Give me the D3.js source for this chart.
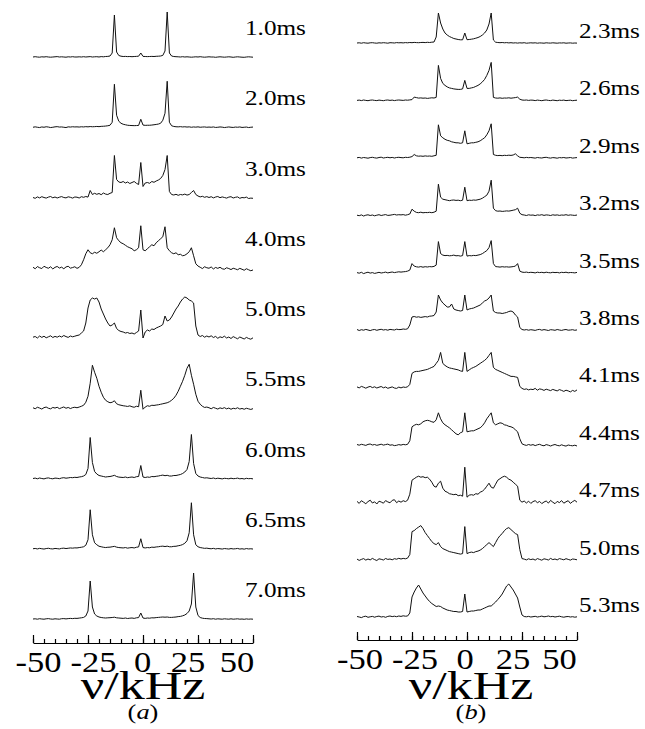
<!DOCTYPE html>
<html>
<head>
<meta charset="UTF-8" />
<title>Spectra</title>
<style>
  body { margin: 0; background: #fff; }
  svg { display: block; }
  text { font-family: "Liberation Serif", "Times New Roman", "DejaVu Serif", serif; fill: #000; }
</style>
<script src="https://d3js.org/d3.v7.min.js"></script>
</head>
<body>
<div id="chart"></div>
<script>
// sampling grid of every spectrum: -50 ... 50 kHz, 1 kHz step (101 points)
const freq = d3.range(-50, 51);
const tickValues = [-50, -25, 0, 25, 50];

// ---- panel (a) ----
const labelsA = ["1.0ms", "2.0ms", "3.0ms", "4.0ms", "5.0ms", "5.5ms", "6.0ms", "6.5ms", "7.0ms"];

const a1_0 = [0,0.3,0,-0.2,0.2,0,0.3,0,-0.2,0,0.2,0.4,0,0.2,0,-0.2,0.2,0,0.3,0,
  0,0.2,0,0.3,0,0.2,0.4,0,0.2,0.3,0,0.4,0.2,0.5,0.6,1,4,42,5,1.5,
  0.8,0.5,0.6,0.4,0.5,0.3,0.5,0.6,0.8,4,0.6,0.5,0.4,0.5,0.6,0.5,0.7,0.8,1,1.6,
  6,45,4,1,0.5,0.3,0.2,0,0.3,0,0.2,0,-0.2,0,0.2,0,0.3,0,-0.2,0,
  0.2,0,0,-0.3,0,0.2,0,-0.2,0,0.2,0,-0.3,0,0.2,0,-0.2,-0.3,0,0.2,0,-0.2];
const a2_0 = [0,0.4,0,-0.3,0.3,0,0.5,0.2,-0.3,0,0.4,0.6,0.2,0.3,0,-0.3,0.4,0.2,0.5,0.3,
  0.4,0.2,0.5,0.3,0.6,0.4,0.7,0.5,0.6,0.8,0.6,0.9,1,1.2,1.5,2,5,43,12,6,
  4,3,2.5,2,1.8,1.7,1.6,1.7,1.8,8,2.2,1.9,2,2,2.2,2.5,2.8,3.2,4,7,
  14,46,5,1.5,0.8,0.5,0.4,0.6,0.3,0.5,0.2,0.4,0,0.3,0.1,0.4,0,0.2,0.3,0,
  0.2,0,0.3,-0.2,0,0.3,0.1,-0.3,0,0.3,0,-0.2,0.2,0,0.3,-0.2,0,0.2,-0.3,0,0.2];
const a3_0 = [0,-0.8,0.6,-0.4,0.8,0,-0.6,0.4,1,-0.3,0.5,-0.5,0.3,0.9,0,-0.4,0.7,0.2,-0.6,0.5,
  0.3,-0.5,0.8,0.2,1,0.4,7,3,4.2,3.2,4,2.8,4.5,3.4,3,4.2,5,42,18,15.5,
  15,16,14.5,15.5,14,15,16,14.2,13,35,11,14.5,15,14.2,16,15.2,16.5,17.5,19,22,
  28,42,6,3,2.5,3.2,2.2,3,2.6,3.4,2.4,3,5,7,3,1.5,0.6,1.2,0.2,0.9,
  0,0.8,-0.4,0.5,1,-0.2,0.6,0,-0.6,0.4,0.8,-0.5,0.2,0.6,-0.8,0,-0.3,0.4,-1,-0.6,-0.8];
const a4_0 = [0.5,-1,1.2,0,-0.8,1.5,0.3,-0.5,1,-1.2,0.4,1.3,-0.3,0.6,-1,0.8,1.5,-0.4,0.2,1,
  -0.6,0.4,3,8,14,18,15,14,15.5,14.5,16,17.7,16,18,20,23,28,40,30,27,
  25,24,22.5,21,20,19,17,18,20,42,18,17,19,21,23,22,25,27,29,31,
  41,20,17,15,14,15,13,13.5,12,12.5,14,16,20,12,4,1.7,0.5,-0.8,1,0,
  -0.5,0.8,-1.2,0.3,-0.6,0.5,-1,-1.5,0,-0.8,-1.8,-0.5,-1.2,-2,-0.6,-1.5,-2.5,-1,-2,-3,-2.2];
const a5_0 = [0.8,1.5,0,2,0.6,1.8,0.2,1.2,2.2,0.5,1.6,0.8,2,1,2.5,1.4,0.6,2,1.2,1.8,
  2.5,3,5,7,15,30,38,40,39,40,36,29,24,19,15,12,13,15,9.5,7.5,
  6.5,6,5,5.5,4.5,5,4,5.5,7,28,0,6,8,7,9,8.5,10,11,12,13.5,
  22,17,18,21,25,29,32,36,39,41,40,38,37,35,12,3,1.5,2.5,0.8,2,
  1,2.2,0.5,1.6,-0.3,1.2,0.4,1.8,0,1,-0.5,1.4,0.3,-0.8,1,0,-1,0.6,-0.5,-1.2,0.2];
const a5_5 = [0.5,-0.5,1,0.2,-0.8,0.6,1.2,0,-0.6,0.8,0.2,1,-0.4,0.5,1.3,0,0.8,-0.3,0.6,1,
  0.5,1.2,2,3,6,12,25,43,36,30,22,16,11,8,6.5,5.5,6,7.5,4.5,3.5,
  3,2.5,2.2,1.8,2.4,1.5,1,2,1.5,18,-1,1.2,2.5,2,3,2.8,3.2,3.5,4,4.5,
  5,5.5,6.5,8,10,13,17,22,27,33,40,44,33,24,14,7,4,2,0.8,1.2,
  0.5,-0.5,0.8,0,-0.8,0.4,-0.3,0.6,-0.6,0.2,-1,0,-0.5,0.5,-0.8,-0.2,-1,0,-0.6,-1.2,-0.4];
const a6_0 = [0,0.4,-0.3,0.5,0,-0.4,0.3,0.6,0,-0.3,0.4,0.2,-0.2,0.5,0.8,0.3,0.6,1,0.8,1.2,
  1,1.5,1.8,2.5,4,10,41,16,7,4.5,3,2.5,2,1.5,1.8,2,2.5,3.2,2,1.4,
  1.2,1,1.5,0.8,1.2,1.5,1,1.8,2,13,1.5,1,1.5,1.2,2,1.8,2.2,2.5,3,3.4,
  2.8,3.2,2.5,2.5,3,3,3.5,4,5,6.5,9,17,44,15,5,2.5,1.5,1,0.5,0.7,
  0.3,0,0.5,-0.2,0.3,0,-0.4,0.2,0,-0.3,0.3,-0.2,0,0.4,-0.3,0,-0.5,0.2,-0.2,0,-0.4];
const a6_5 = [0,0.3,-0.2,0.4,0,-0.3,0.2,0.5,0,-0.2,0.3,0.1,-0.2,0.4,0.6,0.2,0.5,0.8,0.6,0.9,
  0.8,1.2,1.5,2,3.5,9,39,14,6,4,2.5,2,1.5,1.2,1.5,1.6,2,2.4,1.6,1.2,
  1,0.8,1.2,0.6,1,1.2,0.8,1.5,1.8,10,1.2,0.8,1.2,1,1.6,1.4,1.8,2,2.4,2.6,
  2.2,2.6,2,2,2.4,2.5,3,3.4,4.2,5.5,8,16,46,14,4,2,1.2,0.8,0.4,0.6,
  0.2,0,0.4,-0.2,0.2,0,-0.3,0.2,0,-0.3,0.2,-0.2,0,0.3,-0.3,0,-0.4,0.2,-0.2,0,-0.3];
const a7_0 = [0,0.2,-0.2,0.3,0,-0.2,0.2,0.4,0,-0.2,0.2,0,-0.2,0.3,0.4,0.1,0.4,0.6,0.4,0.7,
  0.6,0.9,1.2,1.6,3,8,38,12,5,3,2,1.5,1.2,1,1.2,1.3,1.5,1.8,1.2,1,
  0.8,0.6,1,0.5,0.8,1,0.6,1.2,1.4,6,1,0.6,1,0.8,1.2,1.1,1.4,1.6,1.8,2,
  1.8,2,1.6,1.6,1.8,2,2.4,2.6,3.2,4,5.5,8,15,46,12,3.5,1.5,0.8,0.5,0.4,
  0.2,0,0.3,-0.2,0.2,0,-0.2,0.2,0,-0.2,0.2,-0.2,0,0.2,-0.2,0,-0.3,0.1,-0.2,0,-0.2];
const spectraA = [a1_0, a2_0, a3_0, a4_0, a5_0, a5_5, a6_0, a6_5, a7_0];

// ---- panel (b) ----
const labelsB = ["2.3ms", "2.6ms", "2.9ms", "3.2ms", "3.5ms", "3.8ms", "4.1ms", "4.4ms", "4.7ms", "5.0ms", "5.3ms"];

const b2_3 = [0,0.2,-0.2,0.3,0,-0.2,0.2,0.3,0,-0.2,0.2,0,0.3,0.1,-0.2,0.3,0.2,0,0.4,0.2,
  0.3,0.1,0.4,0.2,0.5,0.3,0.6,0.4,0.3,0.5,0.6,0.4,0.7,0.5,0.8,1,6,30,20,14,
  10,8,6.5,5.5,4.5,4,3.5,3.2,3.2,10,3.3,3.5,3.8,4.2,4.8,5.5,6.5,8,10,13,
  19,30,3,0.8,0.5,0.3,0.5,0.2,0.4,0.1,0.3,0,0.2,-0.1,0.2,0,0.3,-0.2,0,0.2,
  0,0.2,-0.2,0.1,0,-0.2,0.2,0,-0.1,0.2,0,-0.2,0.1,0,0.2,-0.2,0,0.1,-0.2,0,-0.1];
const b2_6 = [0,0.3,-0.2,0.4,0,-0.3,0.2,0.4,0,-0.2,0.3,0,-0.3,0.2,0.4,0,0.3,-0.2,0.2,0.4,
  0.2,0,0.4,0.2,0.5,0.8,3.3,2.8,2.3,2.5,2.2,2.4,2,2.3,2.6,2.4,3,35,22,17,
  15,13.5,12.5,12,11.5,11.2,11,11,11.5,20,12,12,12.5,13,14,15,16.5,18.5,21,25,
  30,38,3,2.4,2.2,2.5,2.1,2.4,2.3,2.6,2.2,2.5,2.8,3.3,1.2,0.4,0.2,0.4,0,0.3,
  0.2,-0.2,0.3,0,-0.3,0.2,0.4,0,-0.2,0.3,0,-0.3,0.2,0,0.3,-0.2,0,0.2,-0.3,0,0.2];
const b2_9 = [0,0.4,-0.3,0.3,0,-0.4,0.2,0.5,0,-0.3,0.3,0.6,-0.2,0.2,0.5,0,0.4,-0.2,0.3,0.5,
  0.2,0,0.5,0.3,0.6,1.2,3.3,2,1.6,1.8,1.5,1.9,1.6,1.8,1.5,2,2.5,33,22,20,
  18.5,17.5,17,16,15.5,15,15,14.5,15,27,14,14.5,15,15,15.5,16,17,18.5,20,23,
  27,34,3.3,2.5,2.2,2.4,2.1,2.5,2.3,2.6,2.4,2.8,4,2,0.5,0.3,0,0.4,0.1,0.3,
  0,-0.3,0.3,0,-0.2,0.3,0.5,0,-0.3,0.2,0,-0.4,0.2,0,0.3,-0.2,0,0.3,-0.3,0,0.2];
const b3_2 = [0,-0.5,0.3,-0.8,0,0.4,-0.3,0.2,-0.6,0,0.5,-0.3,0.2,0.6,-0.2,0,0.4,0.8,0.2,0.5,
  0.3,0.6,0,0.5,1.2,6,4,2.8,2.5,3,2.4,2.7,2.6,2.9,2.5,3,4,31,18,16,
  15.5,15,14.5,15,15.2,14.8,15,14.5,15,28,14.5,15,14.8,15.2,15,15.5,16,17,18.5,20,
  24,35,7,4.5,4,4.2,3.8,4,4.3,4.1,4.5,5,5.5,7,2,0.5,0.2,-0.3,0.4,0,
  0.2,-0.4,0.3,0,0.5,-0.2,0.3,0.1,-0.3,0.4,0,0.3,-0.2,0.2,0,0.5,-0.1,0.3,0,-0.2,0.2];
const b3_5 = [0,-0.6,0.3,-1,-0.2,0.4,-0.5,0,-0.8,-0.3,0.3,-0.4,0,0.5,-0.3,0.2,0.6,0,0.4,0.8,
  0.5,0.8,1,1.5,2.5,9,6.5,5.8,5.5,6,5.4,5.9,5.6,6,5.8,6.2,7.5,31,19,17.5,
  17,17.2,16.8,17,17.5,16.8,17,16.5,17,31,16.5,17,16.8,17.2,17,17.5,18,19,20.5,22,
  25,32,9,6,5.8,5.5,5.9,5.6,5.8,5.5,5.7,6,6.5,9,1.5,0.5,0.2,0.5,0,0.3,
  0.1,-0.3,0.4,0,0.3,-0.2,0.4,0,-0.2,0.3,0,0.2,-0.3,0.3,0,0.4,-0.2,0.1,0,-0.3,0.2];
const b3_8 = [0.5,-0.5,0.3,-0.2,0.6,0,-0.6,0.2,0.5,-0.3,0.3,0.7,0,0.4,-0.2,0.6,0.3,0,0.8,0.4,
  0.5,1,0.7,1.2,5,13,13.5,12.8,13.2,12.6,13,13.4,13,13.8,14,14.5,18,35,30,27,
  25,23,23,26,21,20,19.5,19,19.5,35,20,21,21.5,22,23,24,25,27,29,30,
  32,35,19,17.5,17,17,16.5,17,17.5,18.5,19,18,15,13,2.5,0.5,0,0.4,-0.2,0.3,
  0,-0.4,0.3,0.6,-0.2,0.4,0,-0.5,0.3,0.1,-0.3,0.5,0,-0.4,0.2,0.5,-0.2,0,0.3,-0.3,0.1];
const b4_1 = [0.5,-0.5,1,0.2,-0.8,0.3,1,-0.2,0.6,-0.6,0.2,0.9,-0.4,0.4,-0.9,-0.2,0.5,-0.6,-1,0.3,
  -0.5,0.4,0,0.6,3,14,15.5,16,16,16.5,17,17.5,18,19,20,21,24,27,35,24,
  22,20.5,19.5,19,18.5,18,17.5,16.5,16,35,16,17.5,19,20,21,22.5,24,25.5,27,29,
  32,35,20,18,17,16,15,14,13,12,11,11,10.5,10,1,-1,-2,-1.5,-2.5,-1.8,
  -2.2,-1,-2.8,-1.5,-2,-3,-1.8,-2.5,-3.2,-2,-2.8,-3.5,-2.2,-3,-4,-2.8,-3.5,-4.5,-3,-4,-2.5];
const b4_4 = [0.3,-0.4,0.5,0,-0.6,0.4,0.8,-0.2,0.3,-0.5,0,0.6,-0.3,0.2,0.7,-0.4,0,-0.8,-0.5,0.2,
  -0.3,0.4,0,0.5,4,18,19.5,20.5,20,21,23,24,24.5,24,23,22.5,25,32,26,22,
  20,18.5,17,15,13,11,10,12,13,32,13,13.5,14,14,15,16,17,19,22,26,
  29,32,22,20,21,22,21.5,20,19.5,18.5,18,17,15,13,6,1,0,-0.6,0.3,-0.4,
  0.2,-0.8,0,0.5,-0.5,-1,0.2,-0.4,-1.2,-0.3,0.3,-0.6,-1,0,-0.8,-1.3,-0.2,-0.7,-1,-0.4,-1.2];
const b4_7 = [0.8,-1.2,1.5,0,-1.5,0.6,2,-0.8,0.4,-1.8,1,0.2,-1,1.6,0.3,-0.6,1.8,2.5,-0.5,1.2,
  0,1.5,0.6,2,8,22,23.5,25,26,25,25.5,24.5,25,23,20,16,15,19,21,14,
  11,10,8.5,8,7.5,8,6.5,7,6,35,5,7,7.5,7,8.5,8,10,11,13,16,
  19,15,14,18,22,23.5,25,26,25,23,22,20,18,16,2,0,1.2,-0.8,1,-1.2,
  0.6,1.5,-0.5,0.8,-1.4,0.2,1.2,-0.9,1.8,0,-1.5,0.8,-0.4,1.6,-1,0.4,1.5,-1.2,0.6,1.8,0];
const b5_0 = [0.5,-0.8,0.2,1,-0.5,0.6,-0.3,1.2,0,-0.9,0.8,0.3,-0.4,1.1,0.2,0.6,-0.2,0.9,0.4,1.3,
  0.6,1.2,0.8,1.5,5,28,29,31,32.5,34,31,27,24,21,18,16,15,17,13,11,
  10,9,8,7.5,7,6.5,6,5.5,6,33,6,7,7.5,7,8,8.5,9.5,11,13,15,
  17,15,13,17,21,24,26,29,31,32,30,28,26,25,10,1,0.5,-0.3,0.8,0,
  0.6,-0.5,1,0.2,-0.6,0.8,0.3,-0.4,1.2,0,0.6,-0.3,1,0.4,-0.2,0.9,0.2,-0.5,0.6,0.3,-0.2];
const b5_3 = [0.5,0,-0.6,0.4,0.8,-0.3,0.2,0.6,-0.2,0.5,0.9,0,0.4,-0.3,0.6,1,0.4,0.8,0.3,1,
  0.6,1.2,0.8,1,4,20,25,29,32,28,24,21,18,15.5,13.5,12,10.5,11,10.5,9,
  8,7,6.5,6,5.5,5.5,5,5,5.5,23,5,5.5,6,6,6.5,7,7,8,9,10,
  11,11,13,15,17.5,20,23,27,31,33,30,27,23,19,10,2,0.5,0.2,0.6,0,
  0.3,0.7,0,0.4,0.9,0.2,0.5,1,0.3,0.6,0,0.4,0.8,0.2,-0.2,0.3,0.5,0,0.3,-0.2,0.2];
const spectraB = [b2_3, b2_6, b2_9, b3_2, b3_5, b3_8, b4_1, b4_4, b4_7, b5_0, b5_3];

const W = 645, H = 729;
const svg = d3.select("#chart").append("svg").attr("width", W).attr("height", H);

function drawPanel(cfg) {
  const x = d3.scaleLinear().domain([-50, 50]).range(cfg.xRange);
  const row = d3.scalePoint().domain(cfg.labels).range(cfg.rowRange);
  const g = svg.append("g");

  cfg.labels.forEach((lab, k) => {
    const vals = cfg.spectra[k];
    if (vals.length !== freq.length) throw new Error(lab + ": " + vals.length + " points");
    const base = row(lab);
    const y = d3.scaleLinear().domain([0, 10]).range([base, base - 10]);
    const line = d3.line().x((d, i) => x(freq[i])).y(d => y(d));
    g.append("path")
      .attr("d", line(vals))
      .attr("fill", "none")
      .attr("stroke", "#111")
      .attr("stroke-width", 1)
      .attr("stroke-linejoin", "round");
    g.append("text")
      .attr("transform", "translate(" + cfg.labelX + "," + (base + cfg.labelDy) + ") scale(1.2,1)")
      .attr("font-size", 21)
      .text(lab);
  });

  // axis: minor ticks every 5 kHz, major every 25, pointing up
  const minor = d3.axisBottom(x).tickValues(d3.range(-50, 51, 5))
    .tickSizeInner(-4).tickSizeOuter(0).tickFormat("");
  const major = d3.axisBottom(x).tickValues(tickValues)
    .tickSizeInner(-8).tickSizeOuter(0).tickFormat("");
  const ax = g.append("g").attr("transform", "translate(0," + cfg.axisY + ")");
  ax.call(minor);
  ax.append("g").call(major).select(".domain").remove();
  ax.selectAll("path, line").attr("stroke", "#000").attr("stroke-width", 1.2);

  // tick numbers sit slightly inward of their ticks, as in the original figure
  const lx = d3.scaleLinear().domain(tickValues).range(cfg.labelRange);
  g.selectAll("text.tick-label").data(tickValues).join("text")
    .attr("class", "tick-label")
    .attr("transform", d => "translate(" + lx(d) + "," + (cfg.axisY + 29) + ") scale(1.15,1)")
    .attr("text-anchor", "middle")
    .attr("font-size", 30)
    .text(d => d);

  g.append("text")
    .attr("transform", "translate(" + cfg.titleX + ",699) scale(1.3,1)")
    .attr("text-anchor", "middle")
    .attr("font-size", 40)
    .text("\u03bd/kHz");

  g.append("text")
    .attr("transform", "translate(" + cfg.titleX + ",719) scale(1.2,1)")
    .attr("text-anchor", "middle")
    .attr("font-size", 22)
    .html("(<tspan font-style=\"italic\">" + cfg.tag + "</tspan>)");
}

drawPanel({
  labels: labelsA, spectra: spectraA,
  xRange: [33, 253], rowRange: [57, 619],
  labelX: 245, labelDy: -22,
  axisY: 643, labelRange: [38.5, 93.5, 142.5, 188, 237],
  titleX: 143, tag: "a"
});

drawPanel({
  labels: labelsB, spectra: spectraB,
  xRange: [357, 577], rowRange: [43, 617],
  labelX: 579, labelDy: -5,
  axisY: 640, labelRange: [360, 415, 465, 513, 559.5],
  titleX: 471, tag: "b"
});
</script>
</body>
</html>
